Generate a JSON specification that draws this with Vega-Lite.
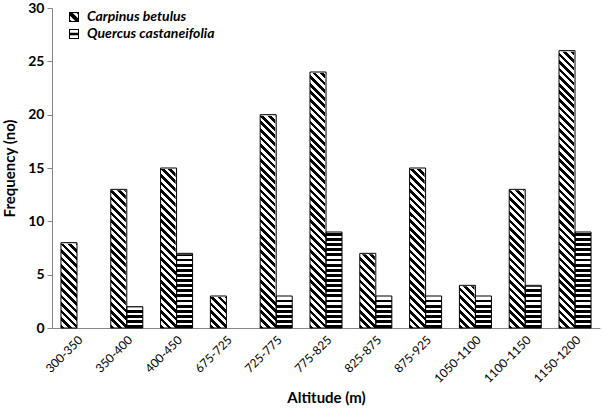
{
 "$schema": "https://vega.github.io/schema/vega-lite/v6.json",
 "width": 548,
 "height": 320,
 "autosize": {"type": "none"},
 "padding": {"left": 52, "top": 8, "right": 2, "bottom": 81},
 "config": {"view": {"stroke": null}, "font": "Lato", "axis": {"grid": false}},
 "data": {"values": [
  {"altitude": "300-350", "species": "Carpinus betulus", "freq": 8},
  {"altitude": "300-350", "species": "Quercus castaneifolia", "freq": 0},
  {"altitude": "350-400", "species": "Carpinus betulus", "freq": 13},
  {"altitude": "350-400", "species": "Quercus castaneifolia", "freq": 2},
  {"altitude": "400-450", "species": "Carpinus betulus", "freq": 15},
  {"altitude": "400-450", "species": "Quercus castaneifolia", "freq": 7},
  {"altitude": "675-725", "species": "Carpinus betulus", "freq": 3},
  {"altitude": "675-725", "species": "Quercus castaneifolia", "freq": 0},
  {"altitude": "725-775", "species": "Carpinus betulus", "freq": 20},
  {"altitude": "725-775", "species": "Quercus castaneifolia", "freq": 3},
  {"altitude": "775-825", "species": "Carpinus betulus", "freq": 24},
  {"altitude": "775-825", "species": "Quercus castaneifolia", "freq": 9},
  {"altitude": "825-875", "species": "Carpinus betulus", "freq": 7},
  {"altitude": "825-875", "species": "Quercus castaneifolia", "freq": 3},
  {"altitude": "875-925", "species": "Carpinus betulus", "freq": 15},
  {"altitude": "875-925", "species": "Quercus castaneifolia", "freq": 3},
  {"altitude": "1050-1100", "species": "Carpinus betulus", "freq": 4},
  {"altitude": "1050-1100", "species": "Quercus castaneifolia", "freq": 3},
  {"altitude": "1100-1150", "species": "Carpinus betulus", "freq": 13},
  {"altitude": "1100-1150", "species": "Quercus castaneifolia", "freq": 4},
  {"altitude": "1150-1200", "species": "Carpinus betulus", "freq": 26},
  {"altitude": "1150-1200", "species": "Quercus castaneifolia", "freq": 9}
 ]},
 "transform": [{"filter": "datum.freq > 0"}],
 "encoding": {
  "x": {
   "field": "altitude", "type": "nominal", "sort": null, "title": "Altitude (m)",
   "scale": {"paddingInner": 0.357, "paddingOuter": 0.18},
   "axis": {"labelAngle": -45, "ticks": false, "grid": false, "domainColor": "#868686", "labelFontSize": 12, "labelColor": "black", "labelPadding": 6, "titleFontSize": 15, "titleFontWeight": "bold", "titleColor": "black", "titlePadding": 6}
  },
  "xOffset": {"field": "species", "type": "nominal", "scale": {"domain": ["Carpinus betulus", "Quercus castaneifolia"], "paddingInner": 0, "paddingOuter": 0}},
  "y": {"field": "freq", "type": "quantitative", "title": "Frequency (no)",
     "scale": {"domain": [0, 30], "nice": false},
     "axis": {"values": [0, 5, 10, 15, 20, 25, 30], "grid": false, "domainColor": "#868686", "tickColor": "#868686", "tickSize": 5, "labelFontWeight": "bold", "labelFontSize": 14, "labelColor": "black", "labelPadding": 3, "titleFontSize": 15, "titleFontWeight": "bold", "titleColor": "black", "titlePadding": 10}}
 },
 "layer": [
  {
   "transform": [{"filter": "datum.species === 'Carpinus betulus'"}],
   "mark": {"type": "bar", "fill": {"gradient": "linear", "x1": 0, "y1": 1, "x2": 0.05237, "y2": -0.04739, "stops": [
       {"offset": 0, "color": "#000"}, {"offset": 0.011, "color": "#000"}, {"offset": 0.011, "color": "#fff"}, {"offset": 0.0225, "color": "#fff"},
       {"offset": 0.0225, "color": "#000"}, {"offset": 0.0335, "color": "#000"}, {"offset": 0.0335, "color": "#fff"}, {"offset": 0.045, "color": "#fff"},
       {"offset": 0.045, "color": "#000"}, {"offset": 0.056, "color": "#000"}, {"offset": 0.056, "color": "#fff"}, {"offset": 0.0675, "color": "#fff"},
       {"offset": 0.0675, "color": "#000"}, {"offset": 0.0785, "color": "#000"}, {"offset": 0.0785, "color": "#fff"}, {"offset": 0.09, "color": "#fff"},
       {"offset": 0.09, "color": "#000"}, {"offset": 0.101, "color": "#000"}, {"offset": 0.101, "color": "#fff"}, {"offset": 0.1125, "color": "#fff"},
       {"offset": 0.1125, "color": "#000"}, {"offset": 0.1235, "color": "#000"}, {"offset": 0.1235, "color": "#fff"}, {"offset": 0.135, "color": "#fff"},
       {"offset": 0.135, "color": "#000"}, {"offset": 0.146, "color": "#000"}, {"offset": 0.146, "color": "#fff"}, {"offset": 0.1575, "color": "#fff"},
       {"offset": 0.1575, "color": "#000"}, {"offset": 0.1685, "color": "#000"}, {"offset": 0.1685, "color": "#fff"}, {"offset": 0.18, "color": "#fff"},
       {"offset": 0.18, "color": "#000"}, {"offset": 0.191, "color": "#000"}, {"offset": 0.191, "color": "#fff"}, {"offset": 0.2025, "color": "#fff"},
       {"offset": 0.2025, "color": "#000"}, {"offset": 0.2135, "color": "#000"}, {"offset": 0.2135, "color": "#fff"}, {"offset": 0.225, "color": "#fff"},
       {"offset": 0.225, "color": "#000"}, {"offset": 0.236, "color": "#000"}, {"offset": 0.236, "color": "#fff"}, {"offset": 0.2475, "color": "#fff"},
       {"offset": 0.2475, "color": "#000"}, {"offset": 0.2585, "color": "#000"}, {"offset": 0.2585, "color": "#fff"}, {"offset": 0.27, "color": "#fff"},
       {"offset": 0.27, "color": "#000"}, {"offset": 0.281, "color": "#000"}, {"offset": 0.281, "color": "#fff"}, {"offset": 0.2925, "color": "#fff"},
       {"offset": 0.2925, "color": "#000"}, {"offset": 0.3035, "color": "#000"}, {"offset": 0.3035, "color": "#fff"}, {"offset": 0.315, "color": "#fff"},
       {"offset": 0.315, "color": "#000"}, {"offset": 0.326, "color": "#000"}, {"offset": 0.326, "color": "#fff"}, {"offset": 0.3375, "color": "#fff"},
       {"offset": 0.3375, "color": "#000"}, {"offset": 0.3485, "color": "#000"}, {"offset": 0.3485, "color": "#fff"}, {"offset": 0.36, "color": "#fff"},
       {"offset": 0.36, "color": "#000"}, {"offset": 0.371, "color": "#000"}, {"offset": 0.371, "color": "#fff"}, {"offset": 0.3825, "color": "#fff"},
       {"offset": 0.3825, "color": "#000"}, {"offset": 0.3935, "color": "#000"}, {"offset": 0.3935, "color": "#fff"}, {"offset": 0.405, "color": "#fff"},
       {"offset": 0.405, "color": "#000"}, {"offset": 0.416, "color": "#000"}, {"offset": 0.416, "color": "#fff"}, {"offset": 0.4275, "color": "#fff"},
       {"offset": 0.4275, "color": "#000"}, {"offset": 0.4385, "color": "#000"}, {"offset": 0.4385, "color": "#fff"}, {"offset": 0.45, "color": "#fff"},
       {"offset": 0.45, "color": "#000"}, {"offset": 0.461, "color": "#000"}, {"offset": 0.461, "color": "#fff"}, {"offset": 0.4725, "color": "#fff"},
       {"offset": 0.4725, "color": "#000"}, {"offset": 0.4835, "color": "#000"}, {"offset": 0.4835, "color": "#fff"}, {"offset": 0.495, "color": "#fff"},
       {"offset": 0.495, "color": "#000"}, {"offset": 0.506, "color": "#000"}, {"offset": 0.506, "color": "#fff"}, {"offset": 0.5175, "color": "#fff"},
       {"offset": 0.5175, "color": "#000"}, {"offset": 0.5285, "color": "#000"}, {"offset": 0.5285, "color": "#fff"}, {"offset": 0.54, "color": "#fff"},
       {"offset": 0.54, "color": "#000"}, {"offset": 0.551, "color": "#000"}, {"offset": 0.551, "color": "#fff"}, {"offset": 0.5625, "color": "#fff"},
       {"offset": 0.5625, "color": "#000"}, {"offset": 0.5735, "color": "#000"}, {"offset": 0.5735, "color": "#fff"}, {"offset": 0.585, "color": "#fff"},
       {"offset": 0.585, "color": "#000"}, {"offset": 0.596, "color": "#000"}, {"offset": 0.596, "color": "#fff"}, {"offset": 0.6075, "color": "#fff"},
       {"offset": 0.6075, "color": "#000"}, {"offset": 0.6185, "color": "#000"}, {"offset": 0.6185, "color": "#fff"}, {"offset": 0.63, "color": "#fff"},
       {"offset": 0.63, "color": "#000"}, {"offset": 0.641, "color": "#000"}, {"offset": 0.641, "color": "#fff"}, {"offset": 0.6525, "color": "#fff"},
       {"offset": 0.6525, "color": "#000"}, {"offset": 0.6635, "color": "#000"}, {"offset": 0.6635, "color": "#fff"}, {"offset": 0.675, "color": "#fff"},
       {"offset": 0.675, "color": "#000"}, {"offset": 0.686, "color": "#000"}, {"offset": 0.686, "color": "#fff"}, {"offset": 0.6975, "color": "#fff"},
       {"offset": 0.6975, "color": "#000"}, {"offset": 0.7085, "color": "#000"}, {"offset": 0.7085, "color": "#fff"}, {"offset": 0.72, "color": "#fff"},
       {"offset": 0.72, "color": "#000"}, {"offset": 0.731, "color": "#000"}, {"offset": 0.731, "color": "#fff"}, {"offset": 0.7425, "color": "#fff"},
       {"offset": 0.7425, "color": "#000"}, {"offset": 0.7535, "color": "#000"}, {"offset": 0.7535, "color": "#fff"}, {"offset": 0.765, "color": "#fff"},
       {"offset": 0.765, "color": "#000"}, {"offset": 0.776, "color": "#000"}, {"offset": 0.776, "color": "#fff"}, {"offset": 0.7875, "color": "#fff"},
       {"offset": 0.7875, "color": "#000"}, {"offset": 0.7985, "color": "#000"}, {"offset": 0.7985, "color": "#fff"}, {"offset": 0.81, "color": "#fff"},
       {"offset": 0.81, "color": "#000"}, {"offset": 0.821, "color": "#000"}, {"offset": 0.821, "color": "#fff"}, {"offset": 0.8325, "color": "#fff"},
       {"offset": 0.8325, "color": "#000"}, {"offset": 0.8435, "color": "#000"}, {"offset": 0.8435, "color": "#fff"}, {"offset": 0.855, "color": "#fff"},
       {"offset": 0.855, "color": "#000"}, {"offset": 0.866, "color": "#000"}, {"offset": 0.866, "color": "#fff"}, {"offset": 0.8775, "color": "#fff"},
       {"offset": 0.8775, "color": "#000"}, {"offset": 0.8885, "color": "#000"}, {"offset": 0.8885, "color": "#fff"}, {"offset": 0.9, "color": "#fff"},
       {"offset": 0.9, "color": "#000"}, {"offset": 0.911, "color": "#000"}, {"offset": 0.911, "color": "#fff"}, {"offset": 1, "color": "#fff"}
      ]}},
   "encoding": {"y": {"datum": 30, "type": "quantitative"}, "y2": {"datum": 0}}
  },
  {
   "transform": [{"filter": "datum.species === 'Quercus castaneifolia'"}],
   "mark": {"type": "bar", "fill": {"gradient": "linear", "x1": 0, "y1": 1, "x2": 0, "y2": 0, "stops": [
       {"offset": 0, "color": "#000"}, {"offset": 0.009, "color": "#000"}, {"offset": 0.009, "color": "#fff"}, {"offset": 0.016, "color": "#fff"},
       {"offset": 0.016, "color": "#000"}, {"offset": 0.025, "color": "#000"}, {"offset": 0.025, "color": "#fff"}, {"offset": 0.032, "color": "#fff"},
       {"offset": 0.032, "color": "#000"}, {"offset": 0.041, "color": "#000"}, {"offset": 0.041, "color": "#fff"}, {"offset": 0.048, "color": "#fff"},
       {"offset": 0.048, "color": "#000"}, {"offset": 0.057, "color": "#000"}, {"offset": 0.057, "color": "#fff"}, {"offset": 0.064, "color": "#fff"},
       {"offset": 0.064, "color": "#000"}, {"offset": 0.073, "color": "#000"}, {"offset": 0.073, "color": "#fff"}, {"offset": 0.08, "color": "#fff"},
       {"offset": 0.08, "color": "#000"}, {"offset": 0.089, "color": "#000"}, {"offset": 0.089, "color": "#fff"}, {"offset": 0.096, "color": "#fff"},
       {"offset": 0.096, "color": "#000"}, {"offset": 0.105, "color": "#000"}, {"offset": 0.105, "color": "#fff"}, {"offset": 0.112, "color": "#fff"},
       {"offset": 0.112, "color": "#000"}, {"offset": 0.121, "color": "#000"}, {"offset": 0.121, "color": "#fff"}, {"offset": 0.128, "color": "#fff"},
       {"offset": 0.128, "color": "#000"}, {"offset": 0.137, "color": "#000"}, {"offset": 0.137, "color": "#fff"}, {"offset": 0.144, "color": "#fff"},
       {"offset": 0.144, "color": "#000"}, {"offset": 0.153, "color": "#000"}, {"offset": 0.153, "color": "#fff"}, {"offset": 0.16, "color": "#fff"},
       {"offset": 0.16, "color": "#000"}, {"offset": 0.169, "color": "#000"}, {"offset": 0.169, "color": "#fff"}, {"offset": 0.176, "color": "#fff"},
       {"offset": 0.176, "color": "#000"}, {"offset": 0.185, "color": "#000"}, {"offset": 0.185, "color": "#fff"}, {"offset": 0.192, "color": "#fff"},
       {"offset": 0.192, "color": "#000"}, {"offset": 0.201, "color": "#000"}, {"offset": 0.201, "color": "#fff"}, {"offset": 0.208, "color": "#fff"},
       {"offset": 0.208, "color": "#000"}, {"offset": 0.217, "color": "#000"}, {"offset": 0.217, "color": "#fff"}, {"offset": 0.224, "color": "#fff"},
       {"offset": 0.224, "color": "#000"}, {"offset": 0.233, "color": "#000"}, {"offset": 0.233, "color": "#fff"}, {"offset": 0.24, "color": "#fff"},
       {"offset": 0.24, "color": "#000"}, {"offset": 0.249, "color": "#000"}, {"offset": 0.249, "color": "#fff"}, {"offset": 0.256, "color": "#fff"},
       {"offset": 0.256, "color": "#000"}, {"offset": 0.265, "color": "#000"}, {"offset": 0.265, "color": "#fff"}, {"offset": 0.272, "color": "#fff"},
       {"offset": 0.272, "color": "#000"}, {"offset": 0.281, "color": "#000"}, {"offset": 0.281, "color": "#fff"}, {"offset": 0.288, "color": "#fff"},
       {"offset": 0.288, "color": "#000"}, {"offset": 0.297, "color": "#000"}, {"offset": 0.297, "color": "#fff"}, {"offset": 0.304, "color": "#fff"},
       {"offset": 0.304, "color": "#000"}, {"offset": 0.313, "color": "#000"}, {"offset": 0.313, "color": "#fff"}, {"offset": 0.32, "color": "#fff"},
       {"offset": 0.32, "color": "#000"}, {"offset": 0.329, "color": "#000"}, {"offset": 0.329, "color": "#fff"}, {"offset": 1, "color": "#fff"}
      ]}},
   "encoding": {"y": {"datum": 30, "type": "quantitative"}, "y2": {"datum": 0}}
  },
  {
   "mark": {"type": "bar", "fill": "white", "stroke": "white", "strokeWidth": 2},
   "encoding": {"y2": {"datum": 30}}
  },
  {
   "mark": {"type": "bar", "fill": "transparent", "stroke": "black", "strokeWidth": 1},
   "encoding": {}
  },
  {
   "mark": {"type": "point", "opacity": 0, "filled": true, "color": "black"},
   "encoding": {
    "shape": {
     "field": "species", "type": "nominal",
     "scale": {"domain": ["Carpinus betulus", "Quercus castaneifolia"], "range": [
      "M-1,-1H1V1H-1Z M-0.8,-0.8V0.8H0.8V-0.8Z M-1,-1L-0.45,-1L1,0.45L1,1L0.45,1L-1,-0.45Z M0.3,-1L1,-1L1,-0.3Z M-1,0.3L-0.3,1L-1,1Z",
      "M-1,-1H1V1H-1Z M-0.8,-0.8V0.8H0.8V-0.8Z M-1,-0.25H1V0.25H-1Z"
     ]},
     "legend": {
      "orient": "none", "legendX": 15, "legendY": 2, "title": null,
      "symbolSize": 100, "symbolOpacity": 1, "symbolFillColor": "black", "symbolStrokeColor": "black", "symbolStrokeWidth": 0,
      "labelFontStyle": "italic", "labelFontWeight": "bold", "labelFontSize": 14, "labelColor": "black",
      "rowPadding": 3, "labelOffset": 6
     }
    }
   }
  }
 ]
}
